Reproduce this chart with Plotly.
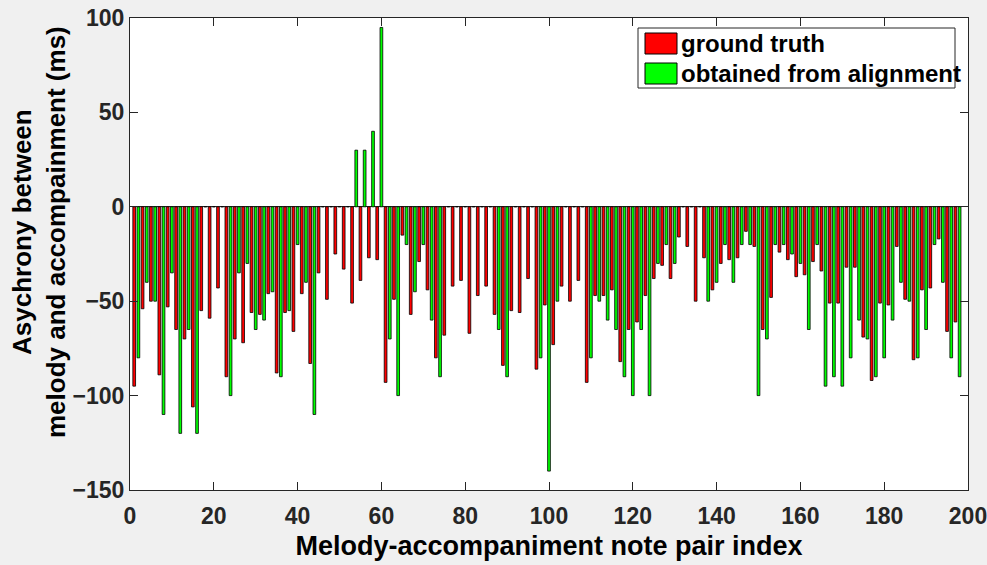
import plotly.graph_objects as go

# ---------------- data ----------------
gt_index = list(range(1, 198, 2))      # ground-truth bars sit on odd indices
obt_index = list(range(2, 199, 2))     # obtained bars sit on even indices

ground_truth = [
    -95, -54, -50, -89, -53, -65, -70, -106, -55, -59, -43, -90, -70,
    -72, -56, -57, -46, -88, -56, -66, -46, -83, -35, -49, -25,
    -33, -51, -39, -27, -28, -93, -49, -15, -57, -29, -44, -80, -68,
    -42, -39, -67, -47, -42, -57, -84, -55, -56, -38, -86, -52,
    -73, -42, -50, -39, -93, -47, -47, -44, -82, -65, -61, -47, -38,
    -31, -38, -16, -21, -50, -27, -44, -30, -28, -27, -13, -21,
    -65, -48, -24, -28, -37, -36, -29, -34, -51, -51, -32, -32, -69,
    -92, -51, -52, -21, -49, -81, -44, -43, -17, -66, -61,
]

obtained = [
    -80, -40, -50, -110, -35, -120, -65, -120, 0, 0, 0, -100,
    -35, -30, -65, -60, -45, -90, -55, -20, -40, -110, 0, 0,
    0, 0, 30, 30, 40, 95, -70, -100, -20, -45, -20, -60, -90,
    0, 0, 0, 0, 0, 0, -65, -90, 0, 0, 0, -80, -140,
    -50, 0, 0, 0, -80, -50, -60, -65, -90, -100, -65, -100, -30,
    -20, -30, 0, 0, 0, -50, -40, -20, -40, -20, -20, -100,
    -70, -20, -20, -25, -30, -65, -20, -95, -90, -95, -80, -60, -70,
    -90, -80, -60, -40, -50, -80, -65, -20, -40, -80, -90,
]

series_names = ["ground truth", "obtained from alignment"]
series_colors = ["#ff0000", "#00ff00"]

x_ticks = [0, 20, 40, 60, 80, 100, 120, 140, 160, 180, 200]
y_ticks = [-150, -100, -50, 0, 50, 100]

x_title = "Melody-accompaniment note pair index"
y_title = "Asychrony between<br>melody and accompainment (ms)"

# ---------------- layout helpers ----------------
W, H = 987, 565
L, R, T, B = 130, 968, 18, 490   # plot area in pixels


def px(xp):
    return (xp - L) / (R - L)


def py(yp):
    return (B - yp) / (B - T)


FONT = "Liberation Sans, Arial, Helvetica, sans-serif"
AXC = "#262626"

fig = go.Figure()
for xs, ys, name, col in [(gt_index, ground_truth, series_names[0], series_colors[0]),
                          (obt_index, obtained, series_names[1], series_colors[1])]:
    fig.add_trace(go.Bar(
        x=xs, y=ys, name=name, width=0.65,
        marker=dict(color=col, line=dict(color="#000000", width=0.8)),
        showlegend=False,
    ))

axis_common = dict(
    showline=True, linecolor=AXC, linewidth=1, mirror="allticks",
    ticks="inside", ticklen=8, tickwidth=1, tickcolor=AXC,
    showgrid=False, automargin=False, ticklabeloverflow="allow",
    tickfont=dict(family=FONT, size=23, color=AXC, weight="bold"),
)

fig.update_layout(
    width=W, height=H,
    margin=dict(l=L, r=W - R, t=T, b=H - B, pad=0, autoexpand=False),
    paper_bgcolor="#f0f0f0", plot_bgcolor="#ffffff",
    barmode="overlay",
    xaxis=dict(range=[0, 200], tickvals=x_ticks, zeroline=False,
               ticklabelstandoff=5,
               title=dict(text=x_title, standoff=8,
                          font=dict(family=FONT, size=27, color="#000000", weight="bold")),
               **axis_common),
    yaxis=dict(range=[-150, 100], tickvals=y_ticks,
               zeroline=True, zerolinecolor=AXC, zerolinewidth=1,
               **axis_common),
)

# y-axis title (two lines, rotated)
fig.add_annotation(
    xref="paper", yref="paper", x=px(39), y=py(232),
    text=y_title, textangle=-90, showarrow=False,
    xanchor="center", yanchor="middle",
    font=dict(family=FONT, size=26, color="#000000", weight="bold"),
)

# legend box with swatches
fig.add_shape(type="rect", xref="paper", yref="paper",
              x0=px(638), x1=px(955), y0=py(88), y1=py(28),
              line=dict(color=AXC, width=1), fillcolor="#ffffff", layer="above")
for i, (name, col) in enumerate(zip(series_names, series_colors)):
    top = 33 + i * 30
    fig.add_shape(type="rect", xref="paper", yref="paper",
                  x0=px(645), x1=px(677), y0=py(top + 21), y1=py(top),
                  line=dict(color="#000000", width=1), fillcolor=col, layer="above")
    fig.add_annotation(xref="paper", yref="paper", x=px(679), y=py(top + 10.5),
                       text=name, showarrow=False, xanchor="left", yanchor="middle",
                       font=dict(family=FONT, size=24, color="#000000", weight="bold"))

fig.write_html(
    "out.html",
    config={"displayModeBar": False},
    post_script="document.body.style.margin='0';document.body.style.overflow='hidden';",
)
